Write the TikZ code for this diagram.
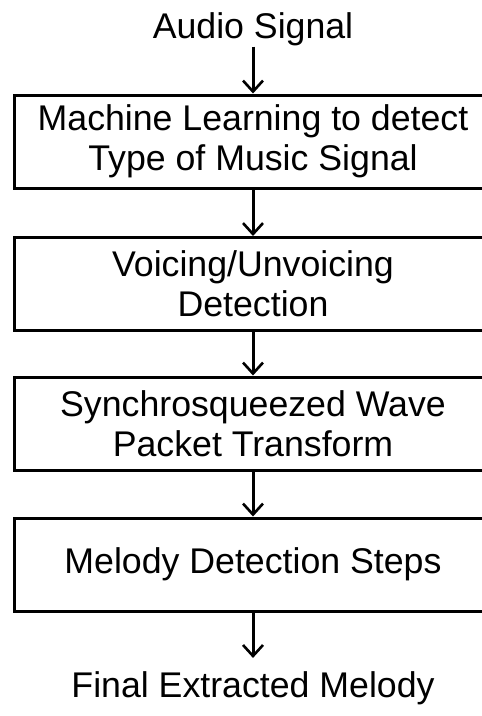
\documentclass[tikz,border=0pt]{standalone}
\usepackage{fontspec}
\setmainfont{Liberation Sans}
\usetikzlibrary{arrows.meta}
\begin{document}
\begin{tikzpicture}[x=1pt,y=-1pt,
  stage/.style={draw, line width=3pt, minimum width=477pt, minimum height=93pt,
    align=center, inner sep=0pt, font=\fontsize{35.7}{40}\selectfont},
  endtext/.style={inner sep=1pt, font=\fontsize{35.7}{40}\selectfont},
  flow/.style={line width=3pt, -{Straight Barb[length=11pt,width=20pt,line width=2.6pt]}}]
\useasboundingbox (0,0) rectangle (482,716);
\node[endtext, anchor=base] (audio) at (253,38) {Audio Signal};
\node[stage] (b1) at (253,141.5) {Machine Learning to detect\\Type of Music Signal};
\node[stage] (b2) at (253,284) {Voicing/Unvoicing\\Detection};
\node[stage] (b3) at (253,423.5) {Synchrosqueezed Wave\\Packet Transform};
\node[stage] (b4) at (253,564.5) {Melody Detection Steps};
\node[endtext, anchor=base] (final) at (253,697) {Final Extracted Melody};
\draw[flow] (audio.south) -- (b1.north);
\draw[flow] (b1.south) -- (b2.north);
\draw[flow] (b2.south) -- (b3.north);
\draw[flow] (b3.south) -- (b4.north);
\draw[flow, shorten >=12pt] (b4.south) -- (final.north);
\end{tikzpicture}
\end{document}
